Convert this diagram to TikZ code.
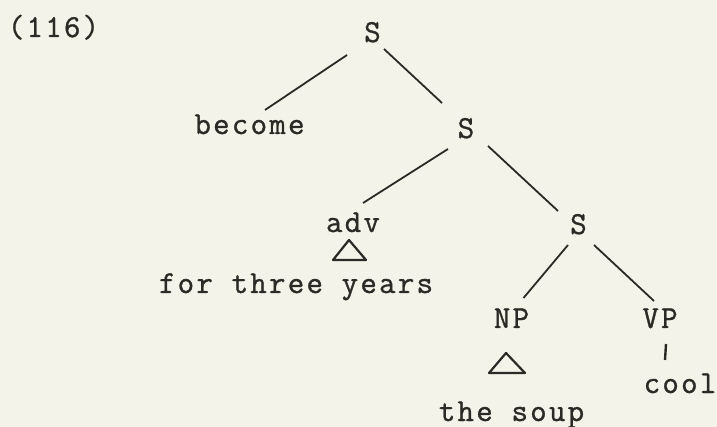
\documentclass[tikz,border=0pt]{standalone}
\usepackage{fontspec}
\newfontfamily\typewriter{Latin Modern Mono}[LetterSpace=7,FakeBold=1]
\definecolor{paper}{HTML}{F3F3EA}
\definecolor{ink}{HTML}{2B2A27}
\begin{document}
\begin{tikzpicture}[x=1pt,y=-1pt,
  lbl/.style={anchor=base,inner sep=0pt,font=\typewriter\fontsize{32}{32}\selectfont,text=ink},
  branch/.style={draw=ink,line width=1.8pt},
  roof/.style={draw=ink,line width=2.2pt,line join=round}]
% paper
\fill[paper] (0,0) rectangle (717,427);
\useasboundingbox (0,0) rectangle (717,427);
% labels
\node[lbl] (num)    at (53.5,37)  {(116)};
\node[lbl] (S1)     at (372.5,42) {S};
\node[lbl] (become) at (249.5,134) {become};
\node[lbl] (S2)     at (466,138)  {S};
\node[lbl] (adv)    at (353,232)  {adv};
\node[lbl] (years)  at (296,293)  {for three years};
\node[lbl] (S3)     at (578.5,234) {S};
\node[lbl] (NP)     at (511.5,328) {NP};
\node[lbl] (VP)     at (660,328)  {VP};
\node[lbl] (cool)   at (680,393)  {cool};
\node[lbl] (soup)   at (511.5,421) {the soup};
% branches
\draw[branch] ([shift={(-25.5,13)}]S1.base) -- ([shift={(15.5,-24)}]become.base);
\draw[branch] ([shift={(11.5,7)}]S1.base) -- ([shift={(-24,-35)}]S2.base);
\draw[branch] ([shift={(-18,11)}]S2.base) -- ([shift={(10,-29)}]adv.base);
\draw[branch] ([shift={(22,8)}]S2.base) -- ([shift={(-20.5,-23)}]S3.base);
\draw[branch] ([shift={(-10.5,11)}]S3.base) -- ([shift={(12,-30)}]NP.base);
\draw[branch] ([shift={(15.5,11)}]S3.base) -- ([shift={(-6,-27)}]VP.base);
\draw[branch,line width=2.4pt] ([shift={(6,16)}]VP.base) -- ([shift={(-15,-33)}]cool.base);
% roofs
\draw[roof] ([shift={(-4,8)}]adv.base) -- ([shift={(-20,28)}]adv.base) -- ([shift={(13,28)}]adv.base) -- cycle;
\draw[roof] ([shift={(-5.5,25)}]NP.base) -- ([shift={(-22.5,45)}]NP.base) -- ([shift={(13.5,45)}]NP.base) -- cycle;
\end{tikzpicture}
\end{document}
